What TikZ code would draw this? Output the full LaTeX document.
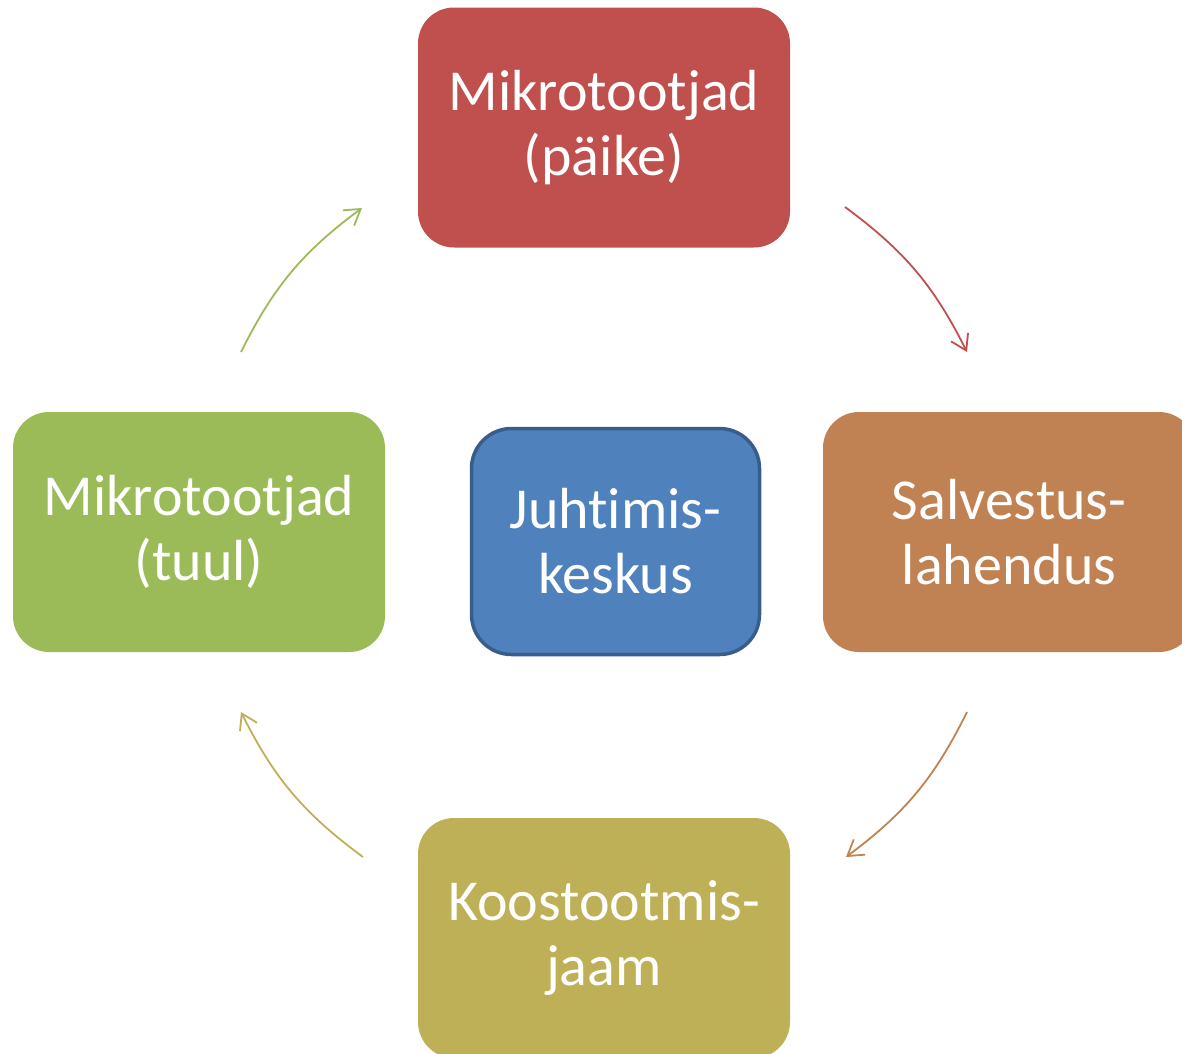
\documentclass[tikz,border=0pt]{standalone}
\usepackage{fontspec}
\setmainfont{Carlito}[RawFeature={-liga;-clig;-dlig}]
\usetikzlibrary{arrows.meta}
\definecolor{cRed}{HTML}{C0504D}
\definecolor{cOrange}{HTML}{C08252}
\definecolor{cGreen}{HTML}{9BBB59}
\definecolor{cOlive}{HTML}{BEB057}
\definecolor{cBlue}{HTML}{4F81BD}
\definecolor{cBlueDark}{HTML}{385D8A}
\tikzset{
  box/.style={rounded corners=36pt, minimum width=372pt, minimum height=240pt,
    inner sep=0pt, text=white, align=center, font=\fontsize{58}{65}\selectfont},
  cyc/.style={line width=1.8pt, -{Straight Barb[length=15pt,width=19pt,line width=1.8pt]}, bend left=13.5}
}
\begin{document}
\begin{tikzpicture}[x=1pt,y=-1pt]
\useasboundingbox (0,0) rectangle (1182,1053);
\clip (0,0) rectangle (1182,1053);
\node[box, fill=cRed] (sun) at (604,127.5) {Mikrotootjad\\(päike)};
\node[box, fill=cOrange] (store) at (1009,532) {Salvestus-\\lahendus};
\node[box, fill=cGreen] (wind) at (199,532) {Mikrotootjad\\(tuul)};
\node[box, fill=cOlive] (chp) at (604,938) {Koostootmis-\\jaam};
\node[box, fill=cBlue, draw=cBlueDark, line width=3.5pt, rounded corners=40pt,
  minimum width=288pt, minimum height=226pt] (ctrl) at (615.5,541.5) {Juhtimis-\\keskus};
\coordinate (a1) at (845,207); \coordinate (a2) at (967,352);
\coordinate (b1) at (967,712); \coordinate (b2) at (846,857);
\coordinate (c1) at (363,857); \coordinate (c2) at (241,712);
\coordinate (d1) at (241,352); \coordinate (d2) at (362,208);
\draw[cyc, draw=cRed] (a1) to (a2);
\draw[cyc, draw=cOrange] (b1) to (b2);
\draw[cyc, draw=cOlive] (c1) to (c2);
\draw[cyc, draw=cGreen] (d1) to (d2);
\end{tikzpicture}
\end{document}
